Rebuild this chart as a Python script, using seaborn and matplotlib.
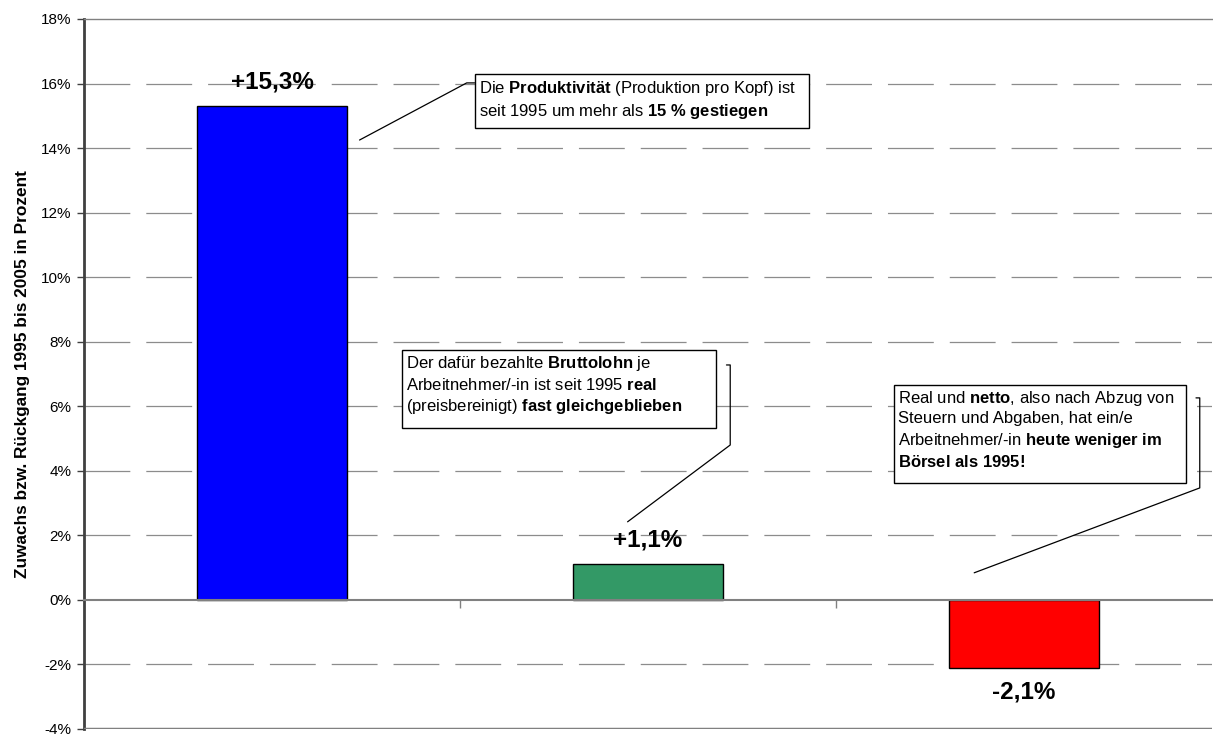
import pandas as pd
import matplotlib
matplotlib.use("Agg")
import matplotlib.pyplot as plt
import seaborn as sns
from matplotlib.patches import Rectangle
from matplotlib.ticker import PercentFormatter

categories = ["Produktivität", "Bruttolohn", "Nettolohn"]
values = [15.3, 1.1, -2.1]
value_labels = ["+15,3%", "+1,1%", "-2,1%"]
bar_colors = ["#0000FF", "#339966", "#FF0000"]

sns.set_style("white")
plt.rcParams["font.family"] = ["Liberation Sans", "DejaVu Sans"]
plt.rcParams["mathtext.fontset"] = "custom"
plt.rcParams["mathtext.rm"] = "Liberation Sans"
plt.rcParams["mathtext.it"] = "Liberation Sans:italic"
plt.rcParams["mathtext.bf"] = "Liberation Sans:bold"
plt.rcParams["lines.scale_dashes"] = False
plt.rcParams["axes.unicode_minus"] = False
plt.rcParams["text.color"] = "black"
plt.rcParams["axes.labelcolor"] = "black"
plt.rcParams["ytick.color"] = "black"

df = pd.DataFrame({"Kategorie": categories, "Wert": values})

fig = plt.figure(figsize=(12.13, 7.36), dpi=100)
ax = fig.add_axes([84/1213, 1-729/736, 1-84/1213-0.001, (729-19)/736])

sns.barplot(data=df, x="Kategorie", y="Wert", hue="Kategorie", palette=bar_colors,
            saturation=1, width=0.4, edgecolor="black", linewidth=1, legend=False,
            ax=ax, zorder=3)

ax.set_ylim(-4, 18)
ax.set_xlim(-0.5, 2.5)
ax.set_yticks(range(-4, 19, 2))
ax.yaxis.set_major_formatter(PercentFormatter(decimals=0))
ax.tick_params(axis="y", labelsize=11, length=5, width=1, color="#404040", left=True, pad=4)
ax.set_xticks([0.5, 1.5])
ax.set_xticklabels([])
ax.tick_params(axis="x", length=6, width=1, color="#808080", bottom=True, direction="out")
ax.set_xlabel("")
ax.set_ylabel("Zuwachs bzw. Rückgang 1995 bis 2005 in Prozent", fontsize=12.4,
              fontweight="bold", labelpad=8)

# grid lines
for yv in range(-2, 17, 2):
    if yv == 0:
        continue
    ax.axhline(yv, color="#8c8c8c", lw=0.9, linestyle=(0, (33, 11.5)), zorder=1)

ax.spines["bottom"].set_position(("data", 0))
ax.spines["bottom"].set_color("#808080")
ax.spines["bottom"].set_linewidth(1.5)
ax.spines["bottom"].set_zorder(4)
ax.spines["left"].set_color("#404040")
ax.spines["left"].set_linewidth(2)
ax.spines["top"].set_color("#808080")
ax.spines["top"].set_linewidth(1)
ax.spines["right"].set_visible(False)
ax.axhline(-4, color="#808080", lw=2.5, zorder=4)

# value labels
for i, (v, lab) in enumerate(zip(values, value_labels)):
    off = 9 if v >= 0 else -9
    ax.annotate(lab, (i, v), xytext=(0, off), textcoords="offset points",
                ha="center", va="bottom" if v >= 0 else "top",
                fontsize=17.5, fontweight="bold")

fs = 12


def note_box(x0, x1, y0, y1):
    ax.add_patch(Rectangle((x0, y0), x1 - x0, y1 - y0, fc="white", ec="black",
                           lw=1, zorder=5))


note_box(0.539, 1.429, 14.63, 16.30)
ax.text(0.552, 16.15,
        "Die $\\mathbf{Produktivität}$ (Produktion pro Kopf) ist\n"
        "seit 1995 um mehr als $\\mathbf{15\\ \\%\\ gestiegen}$",
        ha="left", va="top", fontsize=fs, linespacing=1.3, zorder=6)
ax.plot([0.233, 0.518, 0.539], [14.25, 16.02, 16.02], color="black", lw=0.9, zorder=5)

note_box(0.345, 1.182, 5.33, 7.75)
ax.text(0.356, 7.62,
        "Der dafür bezahlte $\\mathbf{Bruttolohn}$ je\n"
        "Arbeitnehmer/-in ist seit 1995 $\\mathbf{real}$\n"
        "(preisbereinigt) $\\mathbf{fast\\ gleichgeblieben}$",
        ha="left", va="top", fontsize=fs, linespacing=1.3, zorder=6)
ax.plot([1.209, 1.219, 1.219, 0.946], [7.28, 7.28, 4.80, 2.42], color="black", lw=0.9, zorder=5)

note_box(1.655, 2.431, 3.63, 6.66)
ax.text(1.666, 6.54,
        "Real und $\\mathbf{netto}$, also nach Abzug von\n"
        "Steuern und Abgaben, hat ein/e\n"
        "Arbeitnehmer/-in $\\mathbf{heute\\ weniger\\ im}$\n"
        "$\\mathbf{Börsel\\ als\\ 1995!}$",
        ha="left", va="top", fontsize=fs, linespacing=1.3, zorder=6)
ax.plot([2.458, 2.468, 2.468, 1.868], [6.26, 6.26, 3.47, 0.84], color="black", lw=0.9, zorder=5)

fig.savefig("out.png", dpi=100)
